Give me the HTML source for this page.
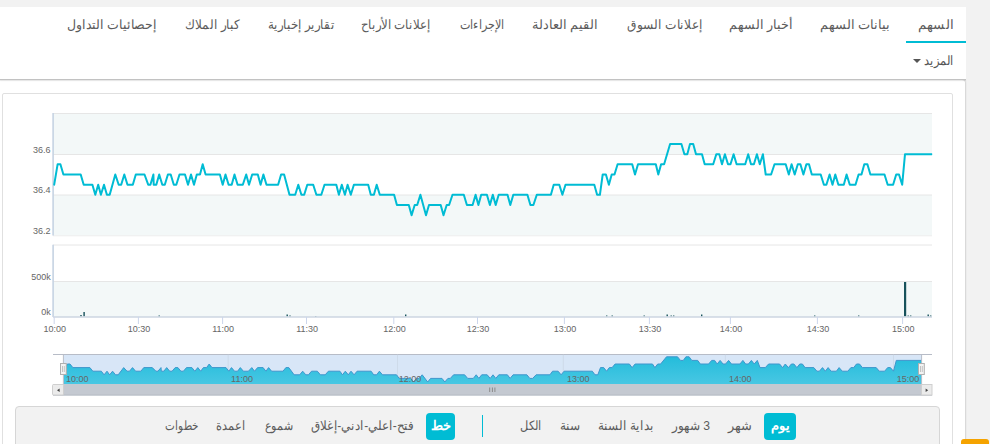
<!DOCTYPE html>
<html lang="ar">
<head>
<meta charset="utf-8">
<title>Chart</title>
<style>
html,body{margin:0;padding:0;}
body{width:990px;height:444px;overflow:hidden;background:#f2f2f2;position:relative;font-family:"Liberation Sans",sans-serif;}
.main{position:absolute;left:0;top:7px;width:966px;height:73px;background:#fff;}
.lower{position:absolute;left:-5px;top:80px;width:970px;height:400px;background:#fff;border-radius:0 3px 0 0;box-shadow:1px 0 1.5px rgba(0,0,0,0.13);}
.tab,.ct{position:absolute;white-space:nowrap;transform:translateX(-50%);direction:rtl;font-size:13px;color:#5c5c5c;line-height:16px;}
.tab{top:16.7px;}
.ul{position:absolute;left:906px;top:41px;width:60px;height:2px;background:#00bcd4;}
.more{position:absolute;left:938.5px;top:53.3px;transform:translateX(-50%) scaleX(0.88);font-size:13px;color:#555;direction:rtl;line-height:16px;white-space:nowrap;}
.caret{position:absolute;left:912.5px;top:59px;width:0;height:0;border-left:4px solid transparent;border-right:4px solid transparent;border-top:4.5px solid #555;}
.hr{position:absolute;left:0;top:79px;width:966px;height:1px;background:#c2c2c2;box-shadow:0 1px 1px rgba(0,0,0,0.12);}
.panel{position:absolute;left:2px;top:93px;width:949px;height:380px;border:1px solid #e0e0e0;border-radius:2px;background:#fff;}
.bar{position:absolute;left:15px;top:406px;width:923px;height:60px;border:1px solid #d6d6d6;border-radius:4px;background:#f2f2f2;}
.ct{top:418.4px;}
.btn{position:absolute;top:413px;height:27px;border-radius:4px;background:#00bcd4;color:#fff;font-weight:bold;font-size:13px;line-height:26px;text-align:center;direction:rtl;}
.div{position:absolute;left:482px;top:415px;width:1px;height:22px;background:#00bcd4;}
.orange{position:absolute;left:961px;top:439px;width:28px;height:10px;border-radius:3px 3px 0 0;background:#f5a300;}
svg{position:absolute;left:0;top:0;}
svg text{font-family:"Liberation Sans",sans-serif;font-size:9px;fill:#666;}
</style>
</head>
<body>
<div class="main"></div>
<div class="lower"></div>
<div class="tab" style="left:935.8px;transform:translateX(-50%) scaleX(1.032)">السهم</div><div class="tab" style="left:855.0px;transform:translateX(-50%) scaleX(0.996)">بيانات السهم</div><div class="tab" style="left:761.3px;transform:translateX(-50%) scaleX(0.978)">أخبار السهم</div><div class="tab" style="left:664.9px;transform:translateX(-50%) scaleX(0.939)">إعلانات السوق</div><div class="tab" style="left:565.4px;transform:translateX(-50%) scaleX(0.995)">القيم العادلة</div><div class="tab" style="left:481.7px;transform:translateX(-50%) scaleX(0.859)">الإجراءات</div><div class="tab" style="left:396.4px;transform:translateX(-50%) scaleX(0.909)">إعلانات الأرباح</div><div class="tab" style="left:300.9px;transform:translateX(-50%) scaleX(0.915)">تقارير إخبارية</div><div class="tab" style="left:211.9px;transform:translateX(-50%) scaleX(0.929)">كبار الملاك</div><div class="tab" style="left:112.4px;transform:translateX(-50%) scaleX(0.962)">إحصائيات التداول</div>
<div class="ul"></div>
<div class="more">المزيد</div>
<div class="caret"></div>
<div class="hr"></div>
<div class="panel"></div>
<svg width="990" height="444" viewBox="0 0 990 444">
  <!-- price pane -->
  <rect x="53" y="113" width="879" height="41" fill="#f3f8f8"/>
  <rect x="53" y="195" width="879" height="40.6" fill="#f3f8f8"/>
  <g stroke="#e6e6e6" stroke-width="1">
    <line x1="53" y1="113.5" x2="932" y2="113.5"/>
    <line x1="53" y1="154.5" x2="932" y2="154.5"/>
    <line x1="53" y1="195" x2="932" y2="195"/>
    <line x1="53" y1="235.8" x2="932" y2="235.8" stroke="#ededed"/>
  </g>
  <line x1="53.1" y1="113" x2="53.1" y2="235.5" stroke="#c6d3e3" stroke-width="1.6"/>
  <g text-anchor="end">
    <text x="50.5" y="153">36.6</text>
    <text x="50.5" y="193">36.4</text>
    <text x="50.5" y="234">36.2</text>
    <text x="50.7" y="280.3">500k</text>
    <text x="50.7" y="315.3">0k</text>
  </g>
  <path d="M54.2 184.7 L57.6 164.3 L60.4 164.3 L63.4 174.5 L80.7 174.5 L83.7 184.7 L92.4 184.7 L95.3 194.8 L98.2 184.7 L100.9 194.8 L104 184.7 L106.9 194.8 L109.7 194.8 L115.3 174.5 L118.7 184.7 L121.2 184.7 L124.3 174.5 L127.5 184.7 L132.8 184.7 L135.8 174.5 L144.5 174.5 L148.2 184.7 L150.4 184.7 L153.4 174.5 L153.7 184.7 L156.3 184.7 L159.2 174.5 L162.3 184.7 L164.8 184.7 L167.9 174.5 L170.7 174.5 L173.8 184.7 L176.3 184.7 L179.5 174.5 L185 174.5 L188 184.7 L191 174.5 L194 184.7 L196.8 174.5 L200 174.5 L202.7 164.3 L205.6 174.5 L219.9 174.5 L222.7 184.7 L225.5 174.5 L228.6 184.7 L231.7 184.7 L234.5 174.5 L237.6 184.7 L242.8 184.7 L246.2 174.5 L249 184.7 L252.2 174.5 L257.8 174.5 L260.6 184.7 L263.4 174.5 L266.5 184.7 L278.1 184.7 L281.1 174.5 L284.1 174.5 L289.5 194.8 L295.2 194.8 L298.3 184.7 L301.4 194.8 L304.2 194.8 L307.3 184.7 L313.2 184.7 L316.4 194.8 L321.3 194.8 L324.5 184.7 L336.3 184.7 L338.9 194.8 L341.8 184.7 L344.9 194.8 L347.6 184.7 L350.8 194.8 L353.9 184.7 L368.2 184.7 L370.8 194.8 L373.9 194.8 L376.7 184.7 L379.8 194.8 L394.1 194.8 L396.9 205 L408.8 205 L411.6 215.2 L414.7 205 L417.2 205 L420.4 194.8 L426 215.2 L429 205 L440.7 205 L443.5 215.2 L446.7 205 L449.1 205 L452.5 194.8 L463.8 194.8 L466.9 205 L472.6 205 L475.6 194.8 L478.4 205 L481.2 194.8 L486.9 194.8 L489.9 205 L492.8 194.8 L495.7 205 L498.7 194.8 L507.5 194.8 L510.3 205 L513.3 194.8 L527.4 194.8 L530.4 205 L533.4 205 L536.8 194.8 L550.9 194.8 L553.7 184.7 L559.3 184.7 L562.4 194.8 L565.5 184.7 L594.3 184.7 L597.1 194.8 L599.9 194.8 L602.7 174.5 L605.9 174.5 L608.9 184.7 L611.7 174.5 L614.5 174.5 L617.6 164.3 L632.2 164.3 L635 174.5 L638 164.3 L655.8 164.3 L658.3 174.5 L661.1 164.3 L664.1 164.3 L670.1 144 L681.4 144 L684.4 154.2 L687.3 154.2 L690 144 L693.2 144 L696 154.2 L702 154.2 L704.7 164.3 L713.2 164.3 L716.3 154.2 L719.3 154.2 L722 164.3 L724.9 154.2 L728 164.3 L730.5 164.3 L733.6 154.2 L736.6 164.3 L745.2 164.3 L748.2 154.2 L751 164.3 L753.9 164.3 L756.9 154.2 L759.8 164.3 L762.9 154.2 L765.7 174.5 L771.1 174.5 L774.5 164.3 L785.7 164.3 L788.8 174.5 L791.6 164.3 L794.7 174.5 L797.8 164.3 L800.4 164.3 L803.4 174.5 L806.4 164.3 L809 164.3 L811.8 174.5 L820.7 174.5 L823.9 184.7 L826.4 184.7 L829.6 174.5 L832.5 184.7 L835.3 174.5 L838.4 184.7 L843.8 184.7 L846.6 174.5 L849.8 184.7 L855.5 184.7 L858.6 174.5 L861.5 174.5 L864.3 164.3 L867.4 164.3 L870.4 174.5 L884.5 174.5 L887.7 184.7 L893.1 184.7 L896.2 174.5 L899 174.5 L902.2 184.7 L905 154.2 L931.8 154.2" fill="none" stroke="#00bcd4" stroke-width="2" stroke-linejoin="round" stroke-linecap="round" clip-path="url(#pc)"/>
  <!-- volume pane -->
  <rect x="53" y="281" width="879" height="36" fill="#f3f8f8"/>
  <g stroke="#e6e6e6" stroke-width="1">
    <line x1="53" y1="245" x2="932" y2="245"/>
    <line x1="53" y1="281.5" x2="932" y2="281.5"/>
  </g>
  <line x1="53.1" y1="244.7" x2="53.1" y2="317" stroke="#c6d3e3" stroke-width="1.6"/>
  <g fill="#17525b"><rect x="80.3" y="315" width="1.4" height="1.5" /><rect x="83.4" y="312" width="1.4" height="4.5" /><rect x="158.5" y="315.5" width="1.4" height="1.0" /><rect x="286.5" y="314.5" width="1.4" height="2.0" /><rect x="289.3" y="315.5" width="1.4" height="1.0" /><rect x="315" y="316" width="1.4" height="0.5" /><rect x="405" y="314.5" width="1.4" height="2.0" /><rect x="606" y="315.5" width="1.4" height="1.0" /><rect x="611.5" y="315.5" width="1.4" height="1.0" /><rect x="643.5" y="315.5" width="1.4" height="1.0" /><rect x="666.5" y="314.5" width="1.4" height="2.0" /><rect x="670.5" y="315.5" width="1.4" height="1.0" /><rect x="673" y="315.5" width="1.4" height="1.0" /><rect x="701" y="314.5" width="1.4" height="2.0" /><rect x="814" y="315.5" width="1.4" height="1.0" /><rect x="858" y="315.5" width="1.4" height="1.0" /><rect x="904" y="282" width="2.2" height="34.5" /><rect x="907.5" y="315.5" width="1.4" height="1.0" /><rect x="910" y="315.5" width="1.4" height="1.0" /><rect x="927.5" y="314.5" width="1.4" height="2.0" /><rect x="930" y="315.5" width="1.4" height="1.0" /></g>
  <line x1="53" y1="317" x2="932" y2="317" stroke="#cdd6e2" stroke-width="1.5"/>
  <g stroke="#ccd6eb" stroke-width="1"><line x1="54.2" y1="317" x2="54.2" y2="324" /><line x1="138.4" y1="317" x2="138.4" y2="324" /><line x1="222.6" y1="317" x2="222.6" y2="324" /><line x1="306.5" y1="317" x2="306.5" y2="324" /><line x1="393.8" y1="317" x2="393.8" y2="324" /><line x1="477.5" y1="317" x2="477.5" y2="324" /><line x1="564.4" y1="317" x2="564.4" y2="324" /><line x1="649.4" y1="317" x2="649.4" y2="324" /><line x1="730.4" y1="317" x2="730.4" y2="324" /><line x1="817.4" y1="317" x2="817.4" y2="324" /><line x1="902.6" y1="317" x2="902.6" y2="324" /></g>
  <g text-anchor="middle"><text x="54.800000000000004" y="332">10:00</text><text x="139.0" y="332">10:30</text><text x="223.2" y="332">11:00</text><text x="307.1" y="332">11:30</text><text x="394.40000000000003" y="332">12:00</text><text x="478.1" y="332">12:30</text><text x="565.0" y="332">13:00</text><text x="650.0" y="332">13:30</text><text x="731.0" y="332">14:00</text><text x="818.0" y="332">14:30</text><text x="903.2" y="332">15:00</text></g>
  <!-- navigator -->
  <line x1="53" y1="354.5" x2="932" y2="354.5" stroke="#b7bcc7" stroke-width="1"/>
  <rect x="64" y="355" width="857.6" height="29" fill="#d8e6f7"/>
  <defs>
    <linearGradient id="ng" x1="0" y1="0" x2="0" y2="1">
      <stop offset="0" stop-color="#24bcdb"/>
      <stop offset="1" stop-color="#48c7e3"/>
    </linearGradient>
    <clipPath id="pc"><rect x="53" y="100" width="879.3" height="140"/></clipPath>
    <clipPath id="nc"><rect x="63.4" y="350" width="858.2" height="40"/></clipPath>
  </defs>
  <g stroke="#c9d4e2" stroke-width="1" opacity="0.6"><line x1="228.2" y1="354.5" x2="228.2" y2="384" /><line x1="397.5" y1="354.5" x2="397.5" y2="384" /><line x1="563.3" y1="354.5" x2="563.3" y2="384" /><line x1="725.4" y1="354.5" x2="725.4" y2="384" /><line x1="893.5" y1="354.5" x2="893.5" y2="384" /></g>
  <path d="M63.9 371.2 L67.3 364 L70 364 L72.9 367.6 L89.9 367.6 L92.8 371.2 L101.3 371.2 L104.1 374.8 L107 371.2 L109.6 374.8 L112.6 371.2 L115.5 374.8 L118.2 374.8 L123.7 367.6 L127 371.2 L129.5 371.2 L132.5 367.6 L135.6 371.2 L140.8 371.2 L143.8 367.6 L152.3 367.6 L155.9 371.2 L158 371.2 L161 367.6 L161.3 371.2 L163.8 371.2 L166.7 367.6 L169.7 371.2 L172.1 371.2 L175.2 367.6 L177.9 367.6 L180.9 371.2 L183.4 371.2 L186.5 367.6 L191.9 367.6 L194.8 371.2 L197.8 367.6 L200.7 371.2 L203.4 367.6 L206.6 367.6 L209.2 364 L212 367.6 L226 367.6 L228.8 371.2 L231.5 367.6 L234.5 371.2 L237.6 371.2 L240.3 367.6 L243.4 371.2 L248.4 371.2 L251.8 367.6 L254.5 371.2 L257.6 367.6 L263.1 367.6 L265.9 371.2 L268.6 367.6 L271.6 371.2 L283 371.2 L285.9 367.6 L288.8 367.6 L294.1 374.8 L299.7 374.8 L302.7 371.2 L305.8 374.8 L308.5 374.8 L311.5 371.2 L317.3 371.2 L320.4 374.8 L325.2 374.8 L328.4 371.2 L339.9 371.2 L342.5 374.8 L345.3 371.2 L348.3 374.8 L351 371.2 L354.1 374.8 L357.1 371.2 L371.1 371.2 L373.7 374.8 L376.7 374.8 L379.4 371.2 L382.5 374.8 L396.5 374.8 L399.2 378.4 L410.8 378.4 L413.6 382 L416.6 378.4 L419.1 378.4 L422.2 374.8 L427.7 382 L430.6 378.4 L442 378.4 L444.8 382 L447.9 378.4 L450.3 378.4 L453.6 374.8 L464.6 374.8 L467.7 378.4 L473.3 378.4 L476.2 374.8 L478.9 378.4 L481.7 374.8 L487.2 374.8 L490.2 378.4 L493 374.8 L495.8 378.4 L498.8 374.8 L507.4 374.8 L510.1 378.4 L513.1 374.8 L526.9 374.8 L529.8 378.4 L532.7 378.4 L536.1 374.8 L549.9 374.8 L552.6 371.2 L558.1 371.2 L561.1 374.8 L564.1 371.2 L592.3 371.2 L595 374.8 L597.8 374.8 L600.5 367.6 L603.7 367.6 L606.6 371.2 L609.3 367.6 L612.1 367.6 L615.1 364 L629.4 364 L632.1 367.6 L635.1 364 L652.5 364 L654.9 367.6 L657.7 364 L660.6 364 L666.5 356.8 L677.5 356.8 L680.5 360.4 L683.3 360.4 L685.9 356.8 L689.1 356.8 L691.8 360.4 L697.7 360.4 L700.3 364 L708.6 364 L711.7 360.4 L714.6 360.4 L717.2 364 L720.1 360.4 L723.1 364 L725.6 364 L728.6 360.4 L731.5 364 L739.9 364 L742.9 360.4 L745.6 364 L748.4 364 L751.4 360.4 L754.2 364 L757.3 360.4 L760 367.6 L765.3 367.6 L768.6 364 L779.6 364 L782.6 367.6 L785.3 364 L788.4 367.6 L791.4 364 L793.9 364 L796.9 367.6 L799.8 364 L802.4 364 L805.1 367.6 L813.8 367.6 L816.9 371.2 L819.4 371.2 L822.5 367.6 L825.3 371.2 L828.1 367.6 L831.1 371.2 L836.4 371.2 L839.1 367.6 L842.3 371.2 L847.8 371.2 L850.9 367.6 L853.7 367.6 L856.5 364 L859.5 364 L862.4 367.6 L876.2 367.6 L879.3 371.2 L884.6 371.2 L887.7 367.6 L890.4 367.6 L893.5 371.2 L896.3 360.4 L922.5 360.4 L922.5 384 L63.9 384 Z" fill="url(#ng)" stroke="none" clip-path="url(#nc)"/>
  <path d="M63.9 371.2 L67.3 364 L70 364 L72.9 367.6 L89.9 367.6 L92.8 371.2 L101.3 371.2 L104.1 374.8 L107 371.2 L109.6 374.8 L112.6 371.2 L115.5 374.8 L118.2 374.8 L123.7 367.6 L127 371.2 L129.5 371.2 L132.5 367.6 L135.6 371.2 L140.8 371.2 L143.8 367.6 L152.3 367.6 L155.9 371.2 L158 371.2 L161 367.6 L161.3 371.2 L163.8 371.2 L166.7 367.6 L169.7 371.2 L172.1 371.2 L175.2 367.6 L177.9 367.6 L180.9 371.2 L183.4 371.2 L186.5 367.6 L191.9 367.6 L194.8 371.2 L197.8 367.6 L200.7 371.2 L203.4 367.6 L206.6 367.6 L209.2 364 L212 367.6 L226 367.6 L228.8 371.2 L231.5 367.6 L234.5 371.2 L237.6 371.2 L240.3 367.6 L243.4 371.2 L248.4 371.2 L251.8 367.6 L254.5 371.2 L257.6 367.6 L263.1 367.6 L265.9 371.2 L268.6 367.6 L271.6 371.2 L283 371.2 L285.9 367.6 L288.8 367.6 L294.1 374.8 L299.7 374.8 L302.7 371.2 L305.8 374.8 L308.5 374.8 L311.5 371.2 L317.3 371.2 L320.4 374.8 L325.2 374.8 L328.4 371.2 L339.9 371.2 L342.5 374.8 L345.3 371.2 L348.3 374.8 L351 371.2 L354.1 374.8 L357.1 371.2 L371.1 371.2 L373.7 374.8 L376.7 374.8 L379.4 371.2 L382.5 374.8 L396.5 374.8 L399.2 378.4 L410.8 378.4 L413.6 382 L416.6 378.4 L419.1 378.4 L422.2 374.8 L427.7 382 L430.6 378.4 L442 378.4 L444.8 382 L447.9 378.4 L450.3 378.4 L453.6 374.8 L464.6 374.8 L467.7 378.4 L473.3 378.4 L476.2 374.8 L478.9 378.4 L481.7 374.8 L487.2 374.8 L490.2 378.4 L493 374.8 L495.8 378.4 L498.8 374.8 L507.4 374.8 L510.1 378.4 L513.1 374.8 L526.9 374.8 L529.8 378.4 L532.7 378.4 L536.1 374.8 L549.9 374.8 L552.6 371.2 L558.1 371.2 L561.1 374.8 L564.1 371.2 L592.3 371.2 L595 374.8 L597.8 374.8 L600.5 367.6 L603.7 367.6 L606.6 371.2 L609.3 367.6 L612.1 367.6 L615.1 364 L629.4 364 L632.1 367.6 L635.1 364 L652.5 364 L654.9 367.6 L657.7 364 L660.6 364 L666.5 356.8 L677.5 356.8 L680.5 360.4 L683.3 360.4 L685.9 356.8 L689.1 356.8 L691.8 360.4 L697.7 360.4 L700.3 364 L708.6 364 L711.7 360.4 L714.6 360.4 L717.2 364 L720.1 360.4 L723.1 364 L725.6 364 L728.6 360.4 L731.5 364 L739.9 364 L742.9 360.4 L745.6 364 L748.4 364 L751.4 360.4 L754.2 364 L757.3 360.4 L760 367.6 L765.3 367.6 L768.6 364 L779.6 364 L782.6 367.6 L785.3 364 L788.4 367.6 L791.4 364 L793.9 364 L796.9 367.6 L799.8 364 L802.4 364 L805.1 367.6 L813.8 367.6 L816.9 371.2 L819.4 371.2 L822.5 367.6 L825.3 371.2 L828.1 367.6 L831.1 371.2 L836.4 371.2 L839.1 367.6 L842.3 371.2 L847.8 371.2 L850.9 367.6 L853.7 367.6 L856.5 364 L859.5 364 L862.4 367.6 L876.2 367.6 L879.3 371.2 L884.6 371.2 L887.7 367.6 L890.4 367.6 L893.5 371.2 L896.3 360.4 L922.5 360.4" fill="none" stroke="#3f95cc" stroke-width="1" stroke-linejoin="round" clip-path="url(#nc)"/>
  <g fill="#7c7c7c"><text x="65.9" y="382">10:00</text><text x="231.1" y="382">11:00</text><text x="398.7" y="382">12:00</text><text x="566.9" y="382">13:00</text><text x="729" y="382">14:00</text><text x="896.7" y="382">15:00</text></g>
  <!-- scrollbar -->
  <rect x="53" y="384" width="879" height="11.5" fill="#c4c9d1"/>
  <rect x="53" y="394.5" width="879" height="1" fill="#b8bdc5"/>
  <rect x="52.5" y="384.5" width="11" height="10.5" rx="1" fill="#ebebeb" stroke="#cfcfcf" stroke-width="1"/>
  <rect x="921.5" y="384.5" width="10.5" height="10.5" fill="#ebebeb" stroke="#cfcfcf" stroke-width="1"/>
  <path d="M59.6 388.4 L59.6 392.1 L57 390.25 Z" fill="#444"/>
  <path d="M925.6 388.4 L925.6 392.1 L928.2 390.25 Z" fill="#444"/>
  <g stroke="#8a8a8a" stroke-width="1"><line x1="489.7" y1="387.5" x2="489.7" y2="392"/><line x1="492.4" y1="387.5" x2="492.4" y2="392"/><line x1="494.9" y1="387.5" x2="494.9" y2="392"/></g>
  <!-- outline verticals -->
  <line x1="63.4" y1="354.5" x2="63.4" y2="384" stroke="#b7bcc7" stroke-width="1"/>
  <line x1="921.6" y1="354.5" x2="921.6" y2="384" stroke="#b7bcc7" stroke-width="1"/>
  <!-- handles -->
  <rect x="60.5" y="363.5" width="5.8" height="11" fill="#f3f3f3" stroke="#b0b0b0" stroke-width="1"/>
  <line x1="62.5" y1="366" x2="62.5" y2="372" stroke="#bdbdbd" stroke-width="0.9"/>
  <line x1="64.3" y1="366" x2="64.3" y2="372" stroke="#bdbdbd" stroke-width="0.9"/>
  <rect x="918.5" y="363.5" width="5.8" height="11" fill="#f3f3f3" stroke="#b0b0b0" stroke-width="1"/>
  <line x1="920.5" y1="366" x2="920.5" y2="372" stroke="#bdbdbd" stroke-width="0.9"/>
  <line x1="922.3" y1="366" x2="922.3" y2="372" stroke="#bdbdbd" stroke-width="0.9"/>
</svg>
<div class="bar"></div>
<div class="btn" style="left:764px;width:32px;">يوم</div>
<div class="ct" style="left:740.0px;transform:translateX(-50%) scaleX(0.996)">شهر</div><div class="ct" style="left:690.9px;transform:translateX(-50%) scaleX(0.933)">3 شهور</div><div class="ct" style="left:626.4px;transform:translateX(-50%) scaleX(0.923)">بداية السنة</div><div class="ct" style="left:569.8px;transform:translateX(-50%) scaleX(0.933)">سنة</div><div class="ct" style="left:531.0px;transform:translateX(-50%) scaleX(0.875)">الكل</div><div class="ct" style="left:362.1px;transform:translateX(-50%) scaleX(0.917)">فتح-اعلي-ادني-إغلاق</div><div class="ct" style="left:278.6px;transform:translateX(-50%) scaleX(0.852)">شموع</div><div class="ct" style="left:231.4px;transform:translateX(-50%) scaleX(0.873)">اعمدة</div><div class="ct" style="left:182.1px;transform:translateX(-50%) scaleX(0.798)">خطوات</div>
<div class="div"></div>
<div class="btn" style="left:426px;width:29px;">خط</div>
<div class="orange"></div>
</body>
</html>
